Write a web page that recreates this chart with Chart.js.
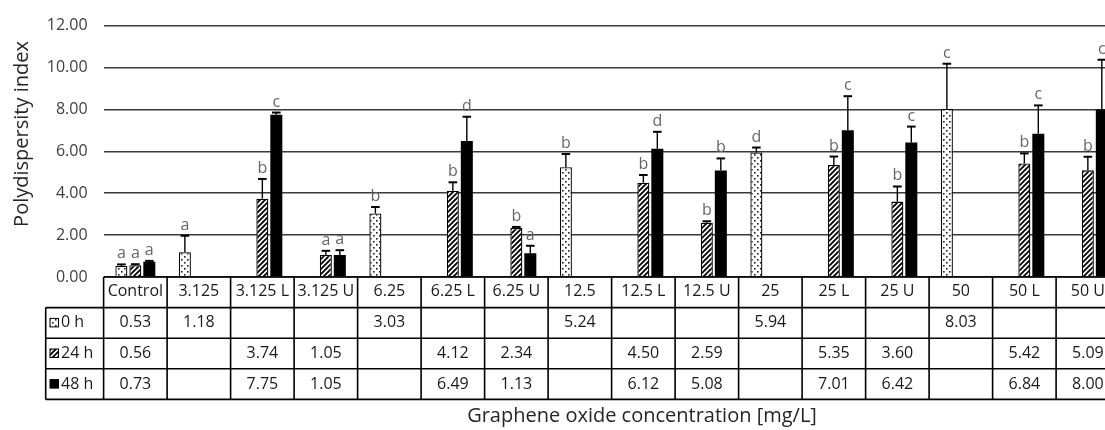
<!DOCTYPE html>
<html><head><meta charset="utf-8">
<script src="https://cdn.jsdelivr.net/npm/chart.js@4/dist/chart.umd.min.js"></script>
<style>
html,body{margin:0;padding:0;background:#fff;overflow:hidden;}
#wrap{width:1105px;height:430px;overflow:hidden;position:relative;}
canvas{display:block;}
</style></head><body>
<div id="wrap"><canvas id="c" width="1125" height="430"></canvas></div>
<script>
// ---- data ----
const categories = ['Control','3.125','3.125 L','3.125 U','6.25','6.25 L','6.25 U','12.5','12.5 L','12.5 U','25','25 L','25 U','50','50 L','50 U'];
const seriesLabels = ['0 h','24 h','48 h'];
const pdi0h  = [0.53,1.18,null,null,3.03,null,null,5.24,null,null,5.94,null,null,8.03,null,null];
const pdi24h = [0.56,null,3.74,1.05,null,4.12,2.34,null,4.50,2.59,null,5.35,3.60,null,5.42,5.09];
const pdi48h = [0.73,null,7.75,1.05,null,6.49,1.13,null,6.12,5.08,null,7.01,6.42,null,6.84,8.00];
const err0h  = [0.07,0.79,null,null,0.31,null,null,0.63,null,null,0.24,null,null,2.15,null,null];
const err24h = [0.05,null,0.94,0.20,null,0.40,0.05,null,0.37,0.07,null,0.40,0.72,null,0.48,0.65];
const err48h = [0.04,null,0.10,0.23,null,1.16,0.36,null,0.81,0.58,null,1.62,0.76,null,1.35,2.37];
const sig0h  = ['a','a',null,null,'b',null,null,'b',null,null,'d',null,null,'c',null,null];
const sig24h = ['a',null,'b','a',null,'b','b',null,'b','b',null,'b','b',null,'b','b'];
const sig48h = ['a',null,'c','a',null,'d','a',null,'d','b',null,'c','c',null,'c','c'];
const yMin = 0, yMax = 12, yStep = 2;
const yTitle = 'Polydispersity index';
const xTitle = 'Graphene oxide concentration [mg/L]';

const values = [pdi0h, pdi24h, pdi48h];
const errors = [err0h, err24h, err48h];
const letters = [sig0h, sig24h, sig48h];

const FONT = '"Open Sans", sans-serif';
Chart.defaults.font.family = FONT;

function makeDots(){
  const c=document.createElement('canvas'); c.width=6; c.height=6;
  const g=c.getContext('2d');
  g.fillStyle='#fff'; g.fillRect(0,0,6,6);
  g.fillStyle='#222';
  g.fillRect(1,1,1.6,1.6); g.fillRect(4,4,1.6,1.6);
  return g.createPattern(c,'repeat');
}
function makeStripes(){
  const s=5; const c=document.createElement('canvas'); c.width=s; c.height=s;
  const g=c.getContext('2d');
  g.fillStyle='#fff'; g.fillRect(0,0,s,s);
  g.strokeStyle='#000'; g.lineWidth=1.9;
  g.beginPath();
  g.moveTo(-1,s+1); g.lineTo(s+1,-1);
  g.moveTo(-1,1); g.lineTo(1,-1);
  g.moveTo(s-1,s+1); g.lineTo(s+1,s-1);
  g.stroke();
  return g.createPattern(c,'repeat');
}
const fills = [makeDots(), makeStripes(), '#000'];

const extras = {
  id:'extras',
  afterDatasetsDraw(chart){
    const ctx=chart.ctx, ys=chart.scales.y;
    ctx.save();
    for(let d=0; d<3; d++){
      const meta=chart.getDatasetMeta(d);
      meta.data.forEach((bar,i)=>{
        const v=values[d][i]; if(v==null) return;
        const e=errors[d][i]||0;
        const yb=ys.getPixelForValue(v), yt=ys.getPixelForValue(v+e);
        ctx.strokeStyle='#000';
        ctx.lineWidth=1.4;
        ctx.beginPath(); ctx.moveTo(bar.x,yb); ctx.lineTo(bar.x,yt); ctx.stroke();
        ctx.lineWidth=2;
        ctx.beginPath(); ctx.moveTo(bar.x-4.3,yt); ctx.lineTo(bar.x+4.3,yt); ctx.stroke();
        const L=letters[d][i];
        if(L){
          ctx.fillStyle='#666';
          ctx.font='16px '+FONT;
          ctx.textAlign='center'; ctx.textBaseline='alphabetic';
          ctx.fillText(L,bar.x,yt-6);
        }
      });
    }
    ctx.restore();
  },
  afterDraw(chart){
    const ctx=chart.ctx, xs=chart.scales.x, a=chart.chartArea;
    const n=categories.length;
    const colW=(a.right-a.left)/n;
    const rowH=30.6;
    const top=a.bottom;
    const hdrLeft=45.7;
    const bottom=top+rowH*4;
    ctx.save();
    ctx.strokeStyle='#000'; ctx.lineWidth=1.6;
    ctx.beginPath();
    ctx.moveTo(a.left,top); ctx.lineTo(a.right,top);
    for(let r=1;r<=4;r++){ const y=top+rowH*r; ctx.moveTo(hdrLeft,y); ctx.lineTo(a.right,y); }
    for(let i=0;i<=n;i++){ const x=xs.getPixelForValue(0)-colW/2+colW*i; ctx.moveTo(x,top); ctx.lineTo(x,bottom); }
    ctx.moveTo(hdrLeft,top+rowH); ctx.lineTo(hdrLeft,bottom);
    ctx.stroke();
    ctx.font='16px '+FONT;
    ctx.textBaseline='middle';
    for(let d=0; d<3; d++){
      const yc=top+rowH*(d+1)+rowH/2;
      ctx.fillStyle=fills[d];
      ctx.fillRect(50,yc-4.5,8.5,8.5);
      ctx.lineWidth=1; ctx.strokeStyle='#000';
      ctx.strokeRect(50,yc-4.5,8.5,8.5);
      ctx.fillStyle='#1a1a1a';
      ctx.textAlign='left';
      ctx.fillText(seriesLabels[d],61,yc);
      ctx.textAlign='center';
      for(let i=0;i<n;i++){
        const v=values[d][i]; if(v==null) continue;
        ctx.fillText(v.toFixed(2), xs.getPixelForValue(i), yc);
      }
    }
    ctx.fillStyle='#262626';
    ctx.font='20px '+FONT;
    ctx.textAlign='center'; ctx.textBaseline='middle';
    ctx.fillText(xTitle, 642, 416);
    ctx.translate(22,134); ctx.rotate(-Math.PI/2);
    ctx.fillText(yTitle,0,0);
    ctx.restore();
  }
};

new Chart(document.getElementById('c'),{
  type:'bar',
  data:{
    labels:categories,
    datasets: seriesLabels.map((s,d)=>({
      label:s, data:values[d],
      backgroundColor:fills[d],
      borderColor:'#000', borderWidth: d===2?0:1.3,
      categoryPercentage:0.66, barPercentage:0.86
    }))
  },
  options:{
    responsive:false, animation:false,
    layout:{padding:{left:0,right:5.4,top:24,bottom:0}},
    plugins:{legend:{display:false},tooltip:{enabled:false}},
    scales:{
      x:{
        grid:{display:false,drawTicks:false},
        border:{display:false},
        ticks:{autoSkip:false,maxRotation:0,padding:5,color:'#1a1a1a',font:{size:16}},
        afterFit(s){ s.height=153; }
      },
      y:{
        min:yMin,max:yMax,
        ticks:{stepSize:yStep,padding:16,color:'#404040',font:{size:16},callback:v=>v.toFixed(2)},
        grid:{color:'#3a3a3a',lineWidth:1.5,drawTicks:false},
        border:{display:false},
        afterFit(s){ s.width=103.6; }
      }
    }
  },
  plugins:[extras]
});
</script>
</body></html>
